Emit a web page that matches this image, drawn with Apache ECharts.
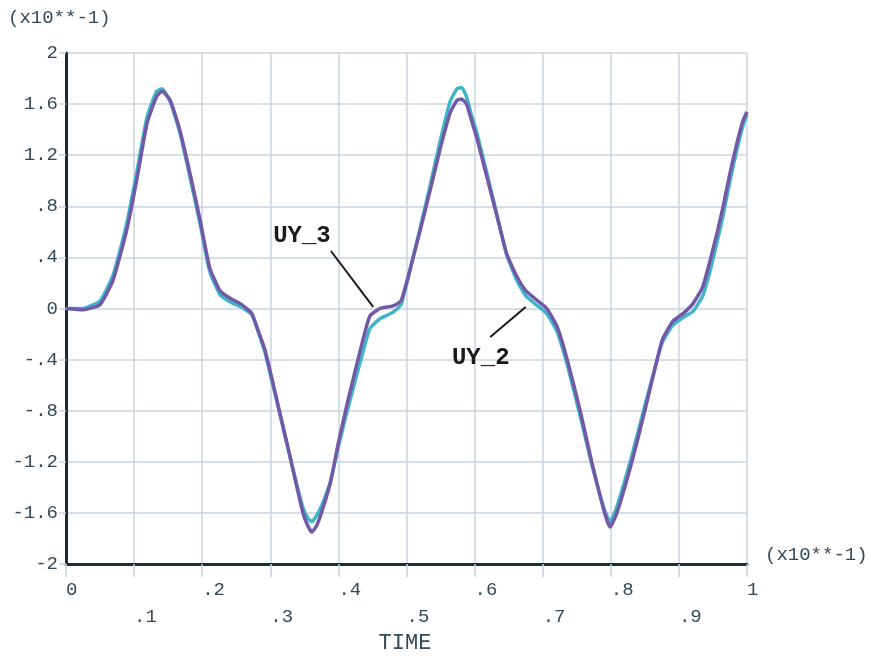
<!DOCTYPE html>
<html>
<head>
<meta charset="utf-8">
<script src="https://cdn.jsdelivr.net/npm/echarts@6/dist/echarts.min.js"></script>
<style>html,body{margin:0;padding:0;background:#fff;}#c{width:875px;height:656px;}</style>
</head>
<body>
<div id="c"></div>
<script>
// TIME (x10**-1)
var timeValues = [0,0.025,0.05,0.069,0.089,0.104,0.119,0.133,0.141,0.153,
  0.167,0.182,0.197,0.211,0.226,0.241,0.258,0.273,0.282,0.292,
  0.302,0.312,0.323,0.332,0.340,0.348,0.355,0.361,0.368,0.375,
  0.388,0.400,0.414,0.432,0.446,0.461,0.480,0.492,0.505,0.520,
  0.535,0.549,0.564,0.574,0.581,0.588,0.595,0.603,0.618,0.633,
  0.647,0.662,0.675,0.688,0.706,0.721,0.736,0.755,0.772,0.791,
  0.799,0.809,0.831,0.850,0.868,0.876,0.891,0.906,0.921,0.935,
  0.946,0.956,0.965,0.975,0.985,0.994,1.000];
// UY_3 (x10**-1)
var valuesUY3 = [0,-0.01,0.03,0.22,0.61,1.01,1.45,1.66,1.70,1.63,
  1.40,1.06,0.69,0.32,0.14,0.08,0.03,-0.04,-0.17,-0.32,
  -0.54,-0.77,-1.02,-1.23,-1.42,-1.60,-1.70,-1.75,-1.70,-1.60,
  -1.37,-1.05,-0.72,-0.33,-0.06,0.00,0.02,0.06,0.30,0.61,
  0.93,1.24,1.53,1.63,1.64,1.60,1.48,1.34,1.03,0.72,
  0.43,0.25,0.14,0.08,0.00,-0.14,-0.40,-0.80,-1.20,-1.60,
  -1.71,-1.60,-1.20,-0.80,-0.40,-0.24,-0.10,-0.04,0.04,0.17,
  0.38,0.59,0.80,1.06,1.29,1.47,1.54];
// UY_2 (x10**-1)
var valuesUY2 = [0,0.0,0.06,0.26,0.66,1.07,1.50,1.70,1.72,1.62,
  1.38,1.03,0.66,0.29,0.11,0.05,0.01,-0.05,-0.18,-0.34,
  -0.56,-0.78,-1.03,-1.23,-1.40,-1.56,-1.64,-1.67,-1.62,-1.55,
  -1.36,-1.08,-0.78,-0.42,-0.16,-0.08,-0.03,0.03,0.30,0.63,
  0.97,1.30,1.62,1.72,1.73,1.66,1.52,1.38,1.06,0.73,
  0.42,0.22,0.10,0.04,-0.04,-0.18,-0.44,-0.84,-1.22,-1.58,
  -1.67,-1.55,-1.15,-0.76,-0.40,-0.26,-0.13,-0.07,-0.02,0.10,
  0.30,0.52,0.73,1.00,1.24,1.43,1.52];
var xTickLabels = ['0','.1','.2','.3','.4','.5','.6','.7','.8','.9','1'];
var yTickLabels = {'-2':'-2','-1.6':'-1.6','-1.2':'-1.2','-0.8':'-.8','-0.4':'-.4','0':'0','0.4':'.4','0.8':'.8','1.2':'1.2','1.6':'1.6','2':'2'};

function pairs(t, v){ return t.map(function(x,i){ return [x, v[i]]; }); }

var FONT = '"Liberation Mono", "DejaVu Sans Mono", monospace';
var GRID = '#c8d4e1';
var AXIS = '#1d2d38';
var TXT = '#34495a';

var chart = echarts.init(document.getElementById('c'), null, {renderer:'canvas'});
chart.setOption({
  animation: false,
  backgroundColor: '#ffffff',
  grid: {left: 66, right: 128, top: 53, bottom: 92},
  xAxis: {
    type: 'value', min: 0, max: 1, interval: 0.1,
    axisLine: {show: true, onZero: false, lineStyle: {color: AXIS, width: 3}},
    axisTick: {show: true, length: 13, lineStyle: {color: GRID, width: 1.5}},
    splitLine: {show: true, lineStyle: {color: GRID, width: 1.5}},
    axisLabel: {
      show: true, margin: 12, align: 'left', lineHeight: 27,
      fontFamily: FONT, fontSize: 19, color: TXT,
      formatter: function(v){
        var idx = Math.round(v*10);
        var s = xTickLabels[idx];
        return (idx % 2 === 1) ? ('\n' + s) : s;
      }
    }
  },
  yAxis: {
    type: 'value', min: -2, max: 2, interval: 0.4,
    axisLine: {show: true, onZero: false, lineStyle: {color: AXIS, width: 3}},
    axisTick: {show: true, length: 7, lineStyle: {color: GRID, width: 1.5}},
    splitLine: {show: true, lineStyle: {color: GRID, width: 1.5}},
    axisLabel: {
      show: true, margin: 8, padding: [0,0,6,0],
      fontFamily: FONT, fontSize: 19, color: TXT,
      formatter: function(v){
        var k = String(Math.round(v*10)/10);
        return yTickLabels[k] !== undefined ? yTickLabels[k] : k;
      }
    }
  },
  series: [
    {name: 'UY_2', type: 'line', data: pairs(timeValues, valuesUY2), showSymbol: false, smooth: 0.15,
     lineStyle: {color: '#3fb6c8', width: 3.5}, z: 3},
    {name: 'UY_3', type: 'line', data: pairs(timeValues, valuesUY3), showSymbol: false, smooth: 0.15,
     lineStyle: {color: '#7458a8', width: 3.5}, z: 4}
  ]
});

function px(t, v){ return chart.convertToPixel({gridIndex: 0}, [t, v]); }
var a1 = px(0.389, 0.45), a2 = px(0.451, 0.012);
var b1 = px(0.623, -0.223), b2 = px(0.675, 0.012);
var l3 = px(0.3465, 0.567), l2 = px(0.609, -0.387);
var labStyle = {fontFamily: FONT, fontSize: 24, fontWeight: 'bold', fill: '#1a1a1a', align: 'center', verticalAlign: 'middle'};
chart.setOption({
  graphic: [
    {type: 'line', shape: {x1: a1[0], y1: a1[1], x2: a2[0], y2: a2[1]}, style: {stroke: '#1a1a1a', lineWidth: 2}, z: 10},
    {type: 'line', shape: {x1: b1[0], y1: b1[1], x2: b2[0], y2: b2[1]}, style: {stroke: '#1a1a1a', lineWidth: 2}, z: 10},
    {type: 'text', x: l3[0], y: l3[1], style: Object.assign({text: 'UY_3'}, labStyle), z: 10},
    {type: 'text', x: l2[0], y: l2[1], style: Object.assign({text: 'UY_2'}, labStyle), z: 10},
    {type: 'text', left: 8, top: 8, style: {text: '(x10**-1)', fontFamily: FONT, fontSize: 19, fill: TXT}},
    {type: 'text', left: 765, top: 545, style: {text: '(x10**-1)', fontFamily: FONT, fontSize: 19, fill: TXT}},
    {type: 'text', x: 405, y: 643, style: {text: 'TIME', fontFamily: FONT, fontSize: 22, fill: TXT, align: 'center', verticalAlign: 'middle'}}
  ]
});
</script>
</body>
</html>
